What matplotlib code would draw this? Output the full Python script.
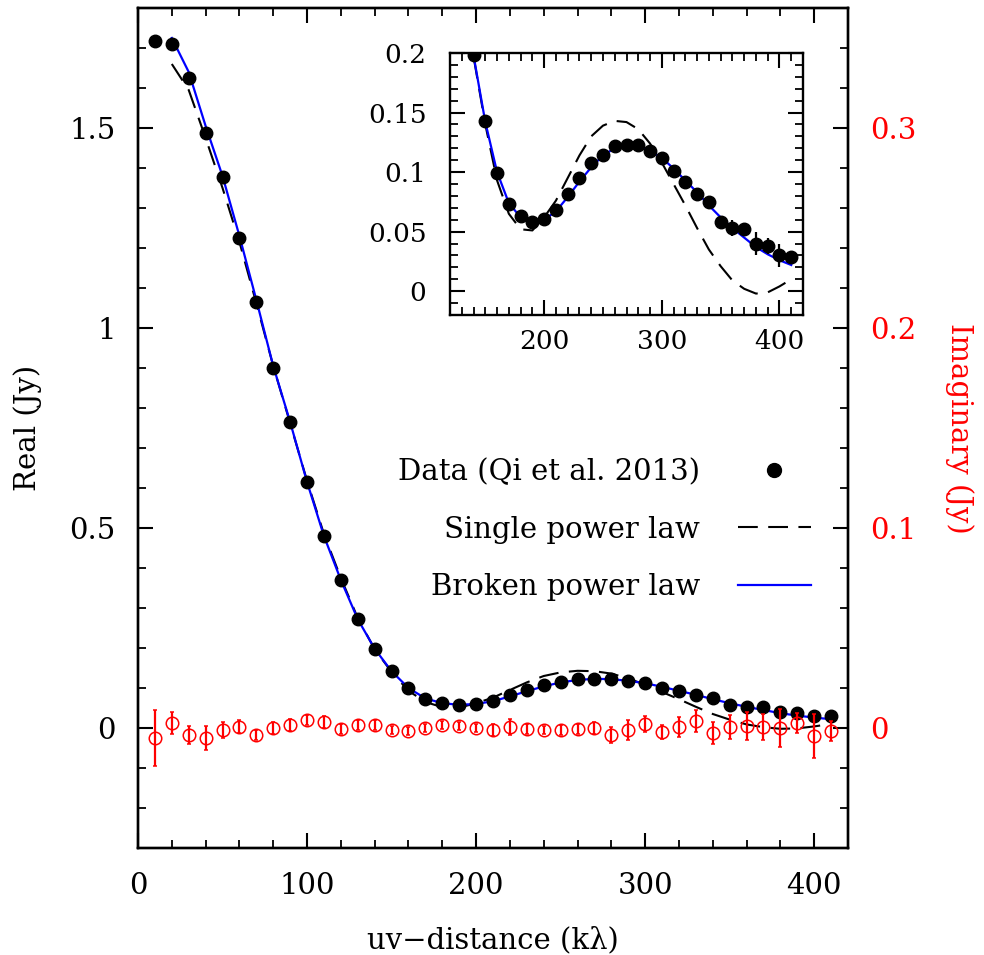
"""Real and imaginary visibilities vs uv-distance, with model curves and inset"""
import matplotlib
matplotlib.use("Agg")
from matplotlib import pyplot as plt
from matplotlib.lines import Line2D
from matplotlib.ticker import MultipleLocator

# observed visibilities (kλ, Jy)
uv = [10, 20, 30, 40, 50, 60, 70, 80, 90, 100, 110, 120, 130, 140, 150, 160, 170, 180,
      190, 200, 210, 220, 230, 240, 250, 260, 270, 280, 290, 300, 310, 320, 330, 340,
      350, 360, 370, 380, 390, 400, 410]
real = [1.718, 1.709, 1.624, 1.488, 1.378, 1.225, 1.065, 0.900, 0.766, 0.615, 0.479,
        0.370, 0.272, 0.198, 0.143, 0.099, 0.073, 0.063, 0.058, 0.061, 0.068, 0.082,
        0.095, 0.108, 0.114, 0.122, 0.123, 0.123, 0.118, 0.112, 0.101, 0.092, 0.082,
        0.075, 0.058, 0.053, 0.052, 0.040, 0.038, 0.030, 0.029]
real_err = [0.002, 0.002, 0.002, 0.002, 0.002, 0.002, 0.002, 0.002, 0.002, 0.002, 0.002,
            0.002, 0.002, 0.002, 0.002, 0.002, 0.002, 0.002, 0.002, 0.002, 0.002, 0.002,
            0.002, 0.002, 0.002, 0.002, 0.002, 0.002, 0.002, 0.002, 0.003, 0.003, 0.003,
            0.004, 0.005, 0.0065, 0.0055, 0.010, 0.007, 0.010, 0.005]
imag = [-0.005, 0.0027, -0.0035, -0.0048, -0.0012, 0.0007, -0.0035, -0.0002, 0.0015,
        0.004, 0.0032, -0.0007, 0.0013, 0.0015, -0.001, -0.0015, -0.0002, 0.0015, 0.001,
        -0.0002, -0.001, 0.0007, -0.0003, -0.001, -0.001, -0.0007, -0.0002, -0.0035,
        -0.0012, 0.0018, -0.0018, 0.0005, 0.0035, -0.0023, 0.0005, 0.001, 0.0005, 0.0002,
        0.0027, -0.004, -0.0015]
imag_err = [0.014, 0.0055, 0.0045, 0.006, 0.004, 0.0033, 0.0025, 0.003, 0.003, 0.0025,
            0.003, 0.0025, 0.0025, 0.0025, 0.002, 0.002, 0.002, 0.002, 0.002, 0.002, 0.003,
            0.004, 0.0025, 0.002, 0.0025, 0.0025, 0.003, 0.004, 0.005, 0.004, 0.0035, 0.005,
            0.0055, 0.0055, 0.006, 0.007, 0.0065, 0.0095, 0.005, 0.011, 0.005]

# model curves
uv_model = [20, 30, 40, 50, 60, 70, 80, 90, 100, 110, 120, 130, 140, 150, 160, 170, 180,
            190, 200, 210, 220, 230, 240, 250, 260, 270, 280, 290, 300, 310, 320, 330,
            340, 350, 360, 370, 380, 390, 400, 410]
single_pl = [1.660, 1.595, 1.475, 1.350, 1.215, 1.062, 0.905, 0.762, 0.618, 0.485, 0.375,
             0.275, 0.197, 0.140, 0.093, 0.065, 0.052, 0.051, 0.062, 0.076, 0.095, 0.114,
             0.130, 0.139, 0.143, 0.142, 0.136, 0.124, 0.108, 0.090, 0.072, 0.053, 0.035,
             0.021, 0.009, 0.002, -0.002, -0.001, 0.004, 0.010]
broken_pl = [1.725, 1.640, 1.505, 1.380, 1.230, 1.070, 0.905, 0.765, 0.615, 0.480, 0.370,
             0.272, 0.198, 0.142, 0.100, 0.074, 0.062, 0.058, 0.060, 0.067, 0.079, 0.092,
             0.104, 0.114, 0.120, 0.123, 0.122, 0.118, 0.112, 0.103, 0.093, 0.083, 0.072,
             0.062, 0.053, 0.045, 0.037, 0.031, 0.026, 0.022]

FS = 21
FS_INSET = 19
plt.rcParams['font.family'] = ['DejaVu Serif']
plt.rcParams['axes.linewidth'] = 1.7
plt.rcParams['xtick.direction'] = 'in'
plt.rcParams['ytick.direction'] = 'in'
plt.rcParams['xtick.top'] = True
plt.rcParams['xtick.major.size'] = 11
plt.rcParams['xtick.minor.size'] = 5.5
plt.rcParams['ytick.major.size'] = 11
plt.rcParams['ytick.minor.size'] = 5.5
plt.rcParams['xtick.major.width'] = 1.5
plt.rcParams['xtick.minor.width'] = 1.3
plt.rcParams['ytick.major.width'] = 1.5
plt.rcParams['ytick.minor.width'] = 1.3

DASH = (0, (9.5, 5))
fmt = plt.FuncFormatter(lambda v, p: f"{v:g}")


def plot_models(axis):
    axis.plot(uv_model, single_pl, color='black', lw=1.5, ls=DASH, zorder=2)
    axis.plot(uv_model, broken_pl, color='blue', lw=1.6, zorder=3)
    axis.errorbar(uv, real, yerr=real_err, fmt='o', color='black', ms=9, elinewidth=1.6,
                  capsize=0, zorder=4)


fig = plt.figure(figsize=(9.84, 9.55), dpi=100)
ax = fig.add_axes([138 / 984, 1 - 848 / 955, 710 / 984, 840 / 955])
plot_models(ax)
ax.set_xlim(0, 420)
ax.set_ylim(-0.3, 1.8)
ax.xaxis.set_major_locator(MultipleLocator(100))
ax.xaxis.set_minor_locator(MultipleLocator(20))
ax.yaxis.set_major_locator(MultipleLocator(0.5))
ax.yaxis.set_minor_locator(MultipleLocator(0.1))
ax.yaxis.set_major_formatter(fmt)
ax.tick_params(axis='x', which='both', pad=17, labelsize=FS)
ax.tick_params(axis='y', which='both', pad=16, labelsize=FS)
ax.set_xlabel('uv\u2212distance (k\u03bb)', fontsize=FS, labelpad=19)
ax.set_ylabel('Real (Jy)', fontsize=FS, labelpad=20)

# imaginary part on the twin axis
ax2 = ax.twinx()
ax2.errorbar(uv, imag, yerr=imag_err, fmt='o', mfc='none', mec='red', color='red', ms=9,
             mew=1.1, elinewidth=1.6, capsize=1.5)
ax2.set_ylim(-0.06, 0.36)
ax2.yaxis.set_major_locator(MultipleLocator(0.1))
ax2.yaxis.set_minor_locator(MultipleLocator(0.02))
ax2.yaxis.set_major_formatter(fmt)
ax2.tick_params(axis='y', which='both', pad=16, labelsize=FS, labelcolor='red')
ax2.set_ylabel('Imaginary (Jy)', fontsize=FS, color='red', rotation=270, labelpad=41)

handles = [Line2D([], [], ls='none', marker='o', color='black', ms=10),
           Line2D([], [], color='black', lw=1.5, ls=DASH),
           Line2D([], [], color='blue', lw=1.6)]
labels = ['Data (Qi et al. 2013)', 'Single power law', 'Broken power law']
ax2.legend(handles, labels, loc='center right', bbox_to_anchor=(0.968, 0.379),
           frameon=False, markerfirst=False, fontsize=FS, handlelength=2.5,
           handletextpad=1.3, labelspacing=1.0, borderpad=0)

# zoomed view of the second peak
axin = fig.add_axes([450 / 984, 1 - 315 / 955, 353 / 984, 262 / 955])
plot_models(axin)
axin.set_xlim(120, 420)
axin.set_ylim(-0.02, 0.2)
axin.xaxis.set_major_locator(MultipleLocator(100))
axin.xaxis.set_minor_locator(MultipleLocator(10))
axin.yaxis.set_major_locator(MultipleLocator(0.05))
axin.yaxis.set_minor_locator(MultipleLocator(0.01))
axin.yaxis.set_major_formatter(fmt)
axin.tick_params(which='both', right=True, top=True, labelsize=FS_INSET)
axin.tick_params(axis='x', which='both', pad=10)
axin.tick_params(axis='y', which='both', pad=17)

fig.savefig('out.png', dpi=100)
